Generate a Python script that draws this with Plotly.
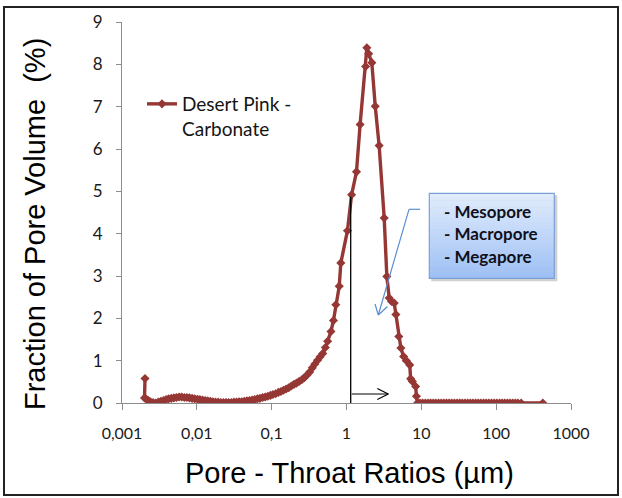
import plotly.graph_objects as go

# Pore-throat size distribution: Desert Pink carbonate
pore_throat_um = [
    0.00203, 0.00200, 0.00212, 0.00225, 0.00240, 0.00260, 0.00282, 0.00305,
    0.00330, 0.00358, 0.00388, 0.00420, 0.00455, 0.00493, 0.00534, 0.00579,
    0.00627, 0.00680, 0.00737, 0.00798, 0.00865, 0.00937, 0.0102, 0.0110,
    0.0119, 0.0129, 0.0140, 0.0152, 0.0164, 0.0178, 0.0193, 0.0209,
    0.0227, 0.0246, 0.0266, 0.0289, 0.0313, 0.0339, 0.0367, 0.0398,
    0.0431, 0.0467, 0.0506, 0.0549, 0.0595, 0.0644, 0.0698, 0.0757,
    0.0820, 0.0889, 0.0963, 0.104, 0.113, 0.123, 0.133, 0.144,
    0.156, 0.169, 0.183, 0.199, 0.215, 0.233, 0.253, 0.274,
    0.297, 0.322, 0.349, 0.378, 0.410, 0.444, 0.481, 0.522,
    0.56, 0.62, 0.67, 0.72, 0.80, 0.84, 1.03, 1.17,
    1.36, 1.52, 1.80, 1.87, 1.98, 2.18, 2.42, 2.73,
    3.19, 3.46, 3.72, 4.00, 4.34, 4.57, 5.00, 5.33,
    5.80, 6.30, 7.00, 7.20, 7.60, 8.40, 8.60, 8.90,
    9.6, 10.4, 11.3, 12.3, 13.3, 14.4, 15.6, 17.0,
    18.4, 20.0, 21.7, 23.5, 25.5, 27.7, 30.0, 32.6,
    35.3, 38.3, 41.6, 45.1, 48.9, 53.1, 57.6, 62.5,
    67.8, 73.5, 79.8, 86.6, 93.9, 102, 111, 120,
    130, 141, 153, 166, 180, 195, 216, 420,
]
pore_volume_pct = [
    0.58, 0.12, 0.09, 0.06, 0.03, 0.01, 0.00, 0.02,
    0.04, 0.06, 0.08, 0.10, 0.11, 0.12, 0.13, 0.14,
    0.14, 0.13, 0.13, 0.12, 0.11, 0.10, 0.09, 0.08,
    0.07, 0.06, 0.05, 0.04, 0.03, 0.02, 0.02, 0.01,
    0.01, 0.01, 0.01, 0.01, 0.02, 0.02, 0.03, 0.03,
    0.04, 0.05, 0.06, 0.07, 0.08, 0.10, 0.11, 0.13,
    0.14, 0.16, 0.18, 0.20, 0.22, 0.25, 0.27, 0.30,
    0.33, 0.36, 0.40, 0.44, 0.47, 0.51, 0.55, 0.60,
    0.66, 0.73, 0.83, 0.92, 1.01, 1.09, 1.17, 1.31,
    1.46, 1.69, 1.95, 2.32, 2.76, 3.31, 4.07, 4.92,
    5.46, 6.58, 7.95, 8.39, 8.25, 8.04, 7.01, 6.08,
    4.37, 2.99, 2.48, 2.40, 2.36, 2.09, 1.57, 1.30,
    1.10, 1.00, 0.90, 0.57, 0.51, 0.39, 0.16, 0.00,
    0.00, 0.00, 0.00, 0.00, 0.00, 0.00, 0.00, 0.00,
    0.00, 0.00, 0.00, 0.00, 0.00, 0.00, 0.00, 0.00,
    0.00, 0.00, 0.00, 0.00, 0.00, 0.00, 0.00, 0.00,
    0.00, 0.00, 0.00, 0.00, 0.00, 0.00, 0.00, 0.00,
    0.00, 0.00, 0.00, 0.00, 0.00, 0.00, 0.00, 0.00,
]

x_tick_vals = [0.001, 0.01, 0.1, 1, 10, 100, 1000]
x_tick_text = ["0,001", "0,01", "0,1", "1", "10", "100", "1000"]
y_tick_vals = [0, 1, 2, 3, 4, 5, 6, 7, 8, 9]
callout_lines = ["- Mesopore", "- Macropore", "- Megapore"]

W, H = 622, 498
PL, PR, PT, PB = 122, 571, 22, 403  # plot-area edges in pixels


def px(X):
    return (X - PL) / (PR - PL)


def py(Y):
    return (PB - Y) / (PB - PT)


LINE_RED = "#953735"
TICK_FONT = dict(family="Lato, Calibri, sans-serif", size=16, color="#1a1a1a")

fig = go.Figure()
fig.add_trace(go.Scatter(
    x=pore_throat_um, y=pore_volume_pct, mode="lines+markers",
    name="Desert Pink -<br>Carbonate",
    line=dict(color=LINE_RED, width=3.4),
    marker=dict(symbol="diamond", size=7, color=LINE_RED),
))

shapes = []

# outer frame
shapes.append(dict(type="rect", xref="paper", yref="paper",
                   x0=px(4), x1=px(618), y0=py(495), y1=py(7),
                   line=dict(color="#222222", width=2), fillcolor="rgba(0,0,0,0)",
                   layer="below"))

# vertical marker line at ~1 um and the rightward arrow
vx = 350.7
shapes.append(dict(type="line", xref="paper", yref="paper",
                   x0=px(vx), x1=px(vx), y0=py(403), y1=py(196.7),
                   line=dict(color="black", width=1.3)))
ay_ = 394
tip = 388.3
shapes.append(dict(type="line", xref="paper", yref="paper",
                   x0=px(vx + 1), x1=px(tip), y0=py(ay_), y1=py(ay_),
                   line=dict(color="black", width=1.2)))
for dy in (-5.5, 5.5):
    shapes.append(dict(type="line", xref="paper", yref="paper",
                       x0=px(tip), x1=px(tip - 11), y0=py(ay_), y1=py(ay_ + dy),
                       line=dict(color="black", width=1.2)))

# callout box: shadow, vertical gradient, border
bx0, bx1, by0, by1 = 429.3, 554.3, 193.3, 278.3
shapes.append(dict(type="rect", xref="paper", yref="paper",
                   x0=px(bx0 + 2), x1=px(bx1 + 3), y0=py(by1 + 3), y1=py(by0 + 2),
                   line=dict(width=0), fillcolor="rgba(120,120,120,0.35)"))
top_rgb = (224, 236, 252)
bot_rgb = (158, 192, 245)
n_strips = 24
for i in range(n_strips):
    t = i / (n_strips - 1)
    c = tuple(round(a + (b - a) * t) for a, b in zip(top_rgb, bot_rgb))
    ya = by0 + (by1 - by0) * i / n_strips
    yb = by0 + (by1 - by0) * (i + 1) / n_strips
    shapes.append(dict(type="rect", xref="paper", yref="paper",
                       x0=px(bx0), x1=px(bx1), y0=py(yb + 0.3), y1=py(ya),
                       line=dict(width=0), fillcolor="rgb(%d,%d,%d)" % c))
shapes.append(dict(type="rect", xref="paper", yref="paper",
                   x0=px(bx0), x1=px(bx1), y0=py(by1), y1=py(by0),
                   line=dict(color="#7a9fd6", width=1.2), fillcolor="rgba(0,0,0,0)"))

# callout pointer
BLUE = "#5b8fd0"
shapes.append(dict(type="line", xref="paper", yref="paper",
                   x0=px(420), x1=px(409), y0=py(209.3), y1=py(209.3),
                   line=dict(color=BLUE, width=1.2)))
shapes.append(dict(type="line", xref="paper", yref="paper",
                   x0=px(409), x1=px(378.3), y0=py(209.3), y1=py(315),
                   line=dict(color=BLUE, width=1.2)))
for ex, ey in ((375.0, 304.0), (387.5, 306.5)):
    shapes.append(dict(type="line", xref="paper", yref="paper",
                       x0=px(378.3), x1=px(ex), y0=py(315), y1=py(ey),
                       line=dict(color=BLUE, width=1.2)))

annotations = []
for txt, yc in zip(callout_lines, (211.7, 233.3, 256.0)):
    annotations.append(dict(text="<b>%s</b>" % txt, xref="paper", yref="paper",
                            x=px(442), y=py(yc), xanchor="left", yanchor="middle",
                            showarrow=False,
                            font=dict(family="Lato, Calibri, sans-serif", size=17,
                                      color="#10101a")))

annotations.append(dict(text="Pore - Throat Ratios (µm)", xref="paper", yref="paper",
                        x=px(349), y=py(473), xanchor="center", yanchor="middle",
                        showarrow=False,
                        font=dict(family="Liberation Sans, Arial, sans-serif", size=29,
                                  color="black")))
annotations.append(dict(text="Fraction of Pore Volume  (%)", xref="paper", yref="paper",
                        x=px(35), y=py(224), xanchor="center", yanchor="middle",
                        textangle=-90, showarrow=False,
                        font=dict(family="Liberation Sans, Arial, sans-serif", size=29,
                                  color="black")))

fig.update_layout(
    width=W, height=H,
    margin=dict(l=PL, r=W - PR, t=PT, b=H - PB, pad=0),
    paper_bgcolor="white", plot_bgcolor="white",
    showlegend=True,
    legend=dict(x=px(142), y=py(85), xanchor="left", yanchor="top",
                valign="top", bgcolor="rgba(0,0,0,0)",
                font=dict(family="Lato, Calibri, sans-serif", size=19, color="#141414"),
                itemwidth=30),
    shapes=shapes,
    annotations=annotations,
)
fig.update_xaxes(
    type="log", range=[-3, 3],
    tickvals=x_tick_vals, ticktext=x_tick_text,
    showgrid=False, zeroline=False,
    showline=True, linecolor="#8c8c8c", linewidth=1,
    ticks="outside", ticklen=6, tickcolor="#8c8c8c",
    tickfont=TICK_FONT, ticklabelstandoff=10,
)
fig.update_yaxes(
    range=[0, 9], tickvals=y_tick_vals,
    showgrid=False, zeroline=False,
    showline=True, linecolor="#8c8c8c", linewidth=1,
    ticks="outside", ticklen=5, tickcolor="#8c8c8c",
    tickfont=dict(family="Lato, Calibri, sans-serif", size=17, color="#1a1a1a"),
    ticklabelstandoff=10,
)

fig.write_html("out.html")
